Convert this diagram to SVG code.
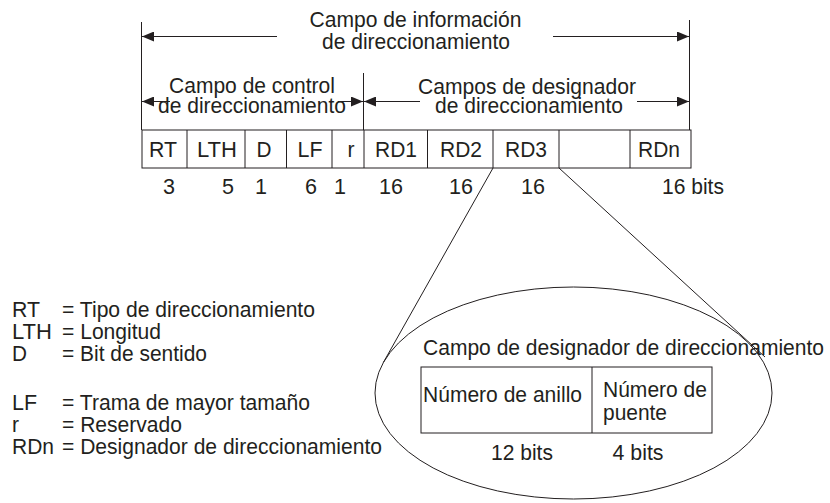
<svg xmlns="http://www.w3.org/2000/svg" width="830" height="503" viewBox="0 0 830 503">
<style>
text{font-family:"Liberation Sans",Arial,sans-serif;font-size:22px;fill:#231f20}
.m{text-anchor:middle}
.ln{stroke:#231f20;stroke-width:1;fill:none}
.cell{stroke:#231f20;stroke-width:1;fill:#fff}
</style>
<defs>
<marker id="ah" viewBox="0 0 12 10" refX="12" refY="5" markerWidth="12" markerHeight="10" markerUnits="userSpaceOnUse" orient="auto">
<path d="M0,0 L12,5 L0,10 Z" fill="#231f20"/>
</marker>
</defs>
<g id="connectors">
<line class="ln" x1="141.5" y1="22" x2="141.5" y2="130"/>
<line class="ln" x1="363.5" y1="73" x2="363.5" y2="130"/>
<line class="ln" x1="689.5" y1="20" x2="689.5" y2="130"/>
<line class="ln" x1="277" y1="36.5" x2="142" y2="36.5" marker-end="url(#ah)"/>
<line class="ln" x1="553" y1="36.5" x2="689" y2="36.5" marker-end="url(#ah)"/>
<line class="ln" x1="170" y1="101.5" x2="142" y2="101.5" marker-end="url(#ah)"/>
<line class="ln" x1="338" y1="101.5" x2="363" y2="101.5" marker-end="url(#ah)"/>
<line class="ln" x1="420" y1="101.5" x2="364" y2="101.5" marker-end="url(#ah)"/>
<line class="ln" x1="637" y1="101.5" x2="689" y2="101.5" marker-end="url(#ah)"/>
<line class="ln" x1="493" y1="168" x2="383.4" y2="362.4"/>
<line class="ln" x1="559" y1="168" x2="765" y2="357"/>
</g>
<g id="label-info">
<text class="m" x="415.5" y="27" textLength="212" lengthAdjust="spacingAndGlyphs">Campo de información</text>
<text class="m" x="416" y="49" textLength="188" lengthAdjust="spacingAndGlyphs">de direccionamiento</text>
</g>
<g id="label-control">
<text x="169" y="93" textLength="166" lengthAdjust="spacingAndGlyphs">Campo de control</text>
<text x="158" y="113" textLength="188" lengthAdjust="spacingAndGlyphs">de direccionamiento</text>
</g>
<g id="label-designador">
<text x="418" y="94" textLength="218" lengthAdjust="spacingAndGlyphs">Campos de designador</text>
<text x="435" y="113" textLength="188" lengthAdjust="spacingAndGlyphs">de direccionamiento</text>
</g>
<g id="frame">
<rect class="cell" x="142" y="130" width="549" height="38"/>
<line class="ln" x1="187" y1="130" x2="187" y2="168"/>
<line class="ln" x1="245" y1="130" x2="245" y2="168"/>
<line class="ln" x1="286.5" y1="130" x2="286.5" y2="168"/>
<line class="ln" x1="332" y1="130" x2="332" y2="168"/>
<line class="ln" x1="364" y1="130" x2="364" y2="168"/>
<line class="ln" x1="427.5" y1="130" x2="427.5" y2="168"/>
<line class="ln" x1="493" y1="130" x2="493" y2="168"/>
<line class="ln" x1="559" y1="130" x2="559" y2="168"/>
<line class="ln" x1="630" y1="130" x2="630" y2="168"/>
<text class="m" x="163" y="157" textLength="28" lengthAdjust="spacingAndGlyphs">RT</text>
<text class="m" x="217" y="157" textLength="40" lengthAdjust="spacingAndGlyphs">LTH</text>
<text class="m" x="264" y="157" textLength="15" lengthAdjust="spacingAndGlyphs">D</text>
<text class="m" x="310" y="157" textLength="25" lengthAdjust="spacingAndGlyphs">LF</text>
<text class="m" x="351" y="157" textLength="7" lengthAdjust="spacingAndGlyphs">r</text>
<text class="m" x="396" y="157" textLength="42" lengthAdjust="spacingAndGlyphs">RD1</text>
<text class="m" x="461" y="157" textLength="42" lengthAdjust="spacingAndGlyphs">RD2</text>
<text class="m" x="526" y="157" textLength="42" lengthAdjust="spacingAndGlyphs">RD3</text>
<text class="m" x="659" y="157" textLength="42" lengthAdjust="spacingAndGlyphs">RDn</text>
</g>
<g id="bits">
<text class="m" x="169" y="194" textLength="12" lengthAdjust="spacingAndGlyphs">3</text>
<text class="m" x="228" y="194" textLength="12" lengthAdjust="spacingAndGlyphs">5</text>
<text class="m" x="261" y="194" textLength="12" lengthAdjust="spacingAndGlyphs">1</text>
<text class="m" x="311" y="194" textLength="12" lengthAdjust="spacingAndGlyphs">6</text>
<text class="m" x="340" y="194" textLength="12" lengthAdjust="spacingAndGlyphs">1</text>
<text class="m" x="391" y="194" textLength="24" lengthAdjust="spacingAndGlyphs">16</text>
<text class="m" x="461" y="194" textLength="24" lengthAdjust="spacingAndGlyphs">16</text>
<text class="m" x="533" y="194" textLength="24" lengthAdjust="spacingAndGlyphs">16</text>
<text x="662" y="194" textLength="62" lengthAdjust="spacingAndGlyphs">16 bits</text>
</g>
<g id="legend">
<text x="12" y="317" textLength="28" lengthAdjust="spacingAndGlyphs">RT</text><text x="62" y="317" textLength="253" lengthAdjust="spacingAndGlyphs">= Tipo de direccionamiento</text>
<text x="12" y="339" textLength="40" lengthAdjust="spacingAndGlyphs">LTH</text><text x="62" y="339" textLength="99" lengthAdjust="spacingAndGlyphs">= Longitud</text>
<text x="12" y="361" textLength="15" lengthAdjust="spacingAndGlyphs">D</text><text x="62" y="361" textLength="145" lengthAdjust="spacingAndGlyphs">= Bit de sentido</text>
<text x="12" y="410" textLength="25" lengthAdjust="spacingAndGlyphs">LF</text><text x="62" y="410" textLength="248" lengthAdjust="spacingAndGlyphs">= Trama de mayor tamaño</text>
<text x="12" y="432" textLength="7" lengthAdjust="spacingAndGlyphs">r</text><text x="62" y="432" textLength="120" lengthAdjust="spacingAndGlyphs">= Reservado</text>
<text x="12" y="454" textLength="42" lengthAdjust="spacingAndGlyphs">RDn</text><text x="62" y="454" textLength="320" lengthAdjust="spacingAndGlyphs">= Designador de direccionamiento</text>
</g>
<g id="detail">
<ellipse class="ln" cx="573.5" cy="393" rx="198.5" ry="106"/>
<text x="423" y="355" textLength="401" lengthAdjust="spacingAndGlyphs">Campo de designador de direccionamiento</text>
<rect class="ln" x="421" y="367" width="291" height="66"/>
<line class="ln" x1="592" y1="367" x2="592" y2="433"/>
<text x="423" y="402" textLength="159" lengthAdjust="spacingAndGlyphs">Número de anillo</text>
<text x="603" y="397" textLength="104" lengthAdjust="spacingAndGlyphs">Número de</text>
<text x="603" y="420" textLength="64" lengthAdjust="spacingAndGlyphs">puente</text>
<text class="m" x="522" y="460" textLength="62" lengthAdjust="spacingAndGlyphs">12 bits</text>
<text class="m" x="638" y="460" textLength="51" lengthAdjust="spacingAndGlyphs">4 bits</text>
</g>
</svg>
